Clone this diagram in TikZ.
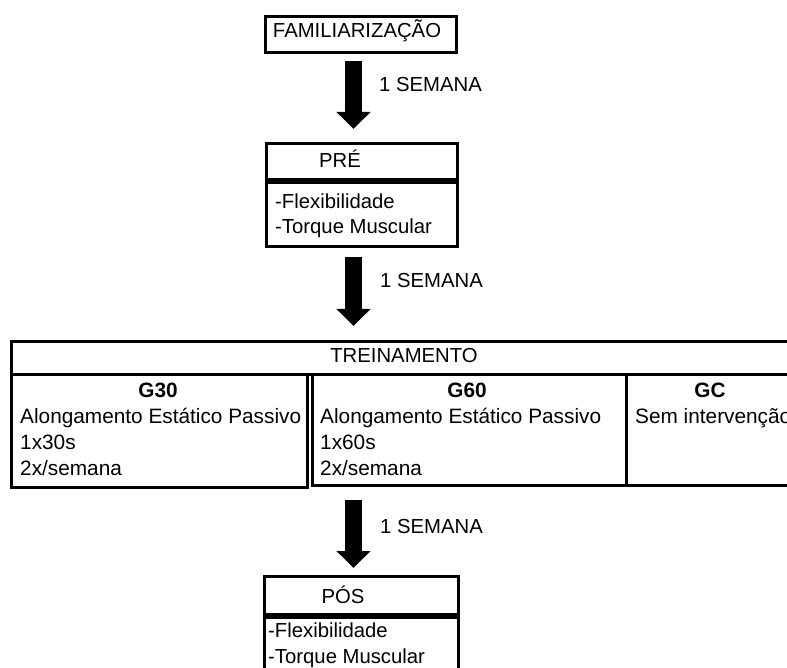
\documentclass[tikz,border=0pt]{standalone}
\usepackage{fontspec}
\setmainfont{Liberation Sans}
\usetikzlibrary{arrows.meta}
\begin{document}
\begin{tikzpicture}[x=1pt,y=-1pt,
  frame/.style={draw=black, line width=3pt, rectangle, inner sep=0pt, anchor=north west},
  txt/.style={inner sep=0pt, anchor=base, font=\fontsize{20.3}{25}\selectfont},
  ltxt/.style={txt, anchor=base west},
  ctxt/.style={inner sep=0pt, anchor=base west, font=\fontsize{20.8}{25}\selectfont},
  btxt/.style={inner sep=0pt, anchor=base, font=\fontsize{20.8}{25}\selectfont\bfseries},
  blockarrow/.style={line width=17pt, -{Triangle[width=33pt,length=17pt]}},
]
\useasboundingbox (0,0) rectangle (787,668);
\clip (0,0) rectangle (787,668);

% FAMILIARIZACAO
\node[frame, minimum width=191pt, minimum height=36pt] (fam) at (264,15) {};
\node[txt] (famt) at (357,38) {FAMILIARIZAÇÃO};

% arrow 1
\coordinate (a1s) at (353.5,61);
\coordinate (a1e) at (353.5,129);
\draw[blockarrow] (a1s) -- (a1e);
\node[ltxt] (w1) at (379,92) {1 SEMANA};

% PRE
\node[frame, minimum width=191pt, minimum height=36pt] (pre) at (265,142) {};
\node[frame, minimum width=191pt, minimum height=64pt] (preb) at (265,181.5) {};
\node[txt] (pret) at (340,168) {PRÉ};
\node[ltxt] (pre1) at (275,209) {-Flexibilidade};
\node[ltxt] (pre2) at (275,234) {-Torque Muscular};

% arrow 2
\coordinate (a2s) at (353.5,257);
\coordinate (a2e) at (353.5,326);
\draw[blockarrow] (a2s) -- (a2e);
\node[ltxt] (w2) at (380,288) {1 SEMANA};

% TREINAMENTO
\node[frame, minimum width=790pt, minimum height=32.5pt] (tre) at (10,340) {};
\node[txt] (tret) at (404,362) {TREINAMENTO};
\node[frame, minimum width=296pt, minimum height=113.5pt] (g30) at (10,372.5) {};
\node[frame, minimum width=314pt, minimum height=111.5pt] (g60) at (311,372.5) {};
\node[frame, minimum width=175pt, minimum height=111.5pt] (gc) at (625,372.5) {};

\node[btxt] (g30t) at (158,397) {G30};
\node[ctxt] (g30a) at (20,423) {Alongamento Estático Passivo};
\node[ctxt] (g30b) at (20,449) {1x30s};
\node[ctxt] (g30c) at (20,475) {2x/semana};

\node[btxt] (g60t) at (467,397) {G60};
\node[ctxt] (g60a) at (320,423) {Alongamento Estático Passivo};
\node[ctxt] (g60b) at (320,449) {1x60s};
\node[ctxt] (g60c) at (320,475) {2x/semana};

\node[btxt] (gct) at (710,397) {GC};
\node[ctxt] (gca) at (635,423) {Sem intervenção};

% arrow 3
\coordinate (a3s) at (353.5,500);
\coordinate (a3e) at (353.5,568);
\draw[blockarrow] (a3s) -- (a3e);
\node[ltxt] (w3) at (380,533) {1 SEMANA};

% POS
\node[frame, minimum width=194pt, minimum height=38pt] (pos) at (263,575) {};
\node[frame, minimum width=194pt, minimum height=80pt] (posb) at (263,616) {};
\node[txt] (post) at (343,603) {PÓS};
\node[ltxt] (pos1) at (268,637) {-Flexibilidade};
\node[ltxt] (pos2) at (268,663) {-Torque Muscular};
\end{tikzpicture}
\end{document}
